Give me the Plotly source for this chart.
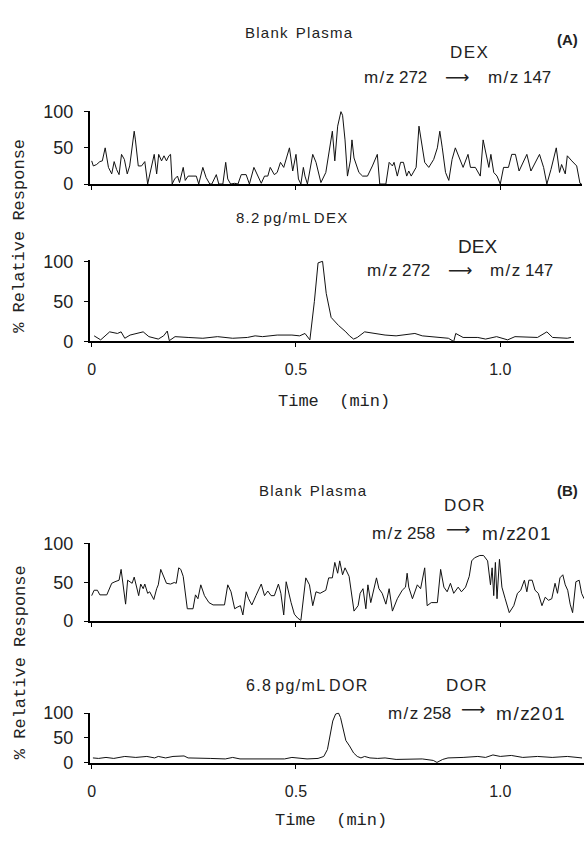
import plotly.graph_objects as go

# ---------------- data (time in min, % relative response) ----------------
a1_time = [0.000, 0.004, 0.012, 0.020, 0.026, 0.033, 0.041, 0.049, 0.055, 0.061, 0.067, 0.073, 0.080, 0.087,
           0.093, 0.100, 0.104, 0.107, 0.114, 0.122, 0.130, 0.137, 0.146, 0.153, 0.159, 0.164, 0.171, 0.177,
           0.183, 0.189, 0.193, 0.197, 0.203, 0.210, 0.215, 0.224, 0.229, 0.236, 0.248, 0.256, 0.262, 0.272,
           0.280, 0.289, 0.294, 0.305, 0.311, 0.321, 0.328, 0.333, 0.340, 0.350, 0.358, 0.366, 0.378, 0.386,
           0.397, 0.407, 0.415, 0.423, 0.431, 0.437, 0.447, 0.454, 0.462, 0.470,
           0.484, 0.492, 0.500, 0.506, 0.512, 0.518, 0.522, 0.528, 0.541, 0.549, 0.561, 0.573, 0.581, 0.589,
           0.595, 0.602, 0.610, 0.614, 0.620, 0.626, 0.633, 0.637, 0.642, 0.654, 0.663, 0.675, 0.687, 0.699,
           0.705, 0.720, 0.728, 0.736, 0.740, 0.748, 0.756, 0.763, 0.771, 0.776, 0.782, 0.789, 0.794, 0.801,
           0.807, 0.815, 0.825, 0.837, 0.846, 0.852, 0.858, 0.866, 0.874, 0.882, 0.890, 0.898, 0.909, 0.921,
           0.927, 0.939, 0.951, 0.958, 0.963, 0.972, 0.977, 0.984, 0.992, 1.000, 1.008, 1.020, 1.028, 1.037,
           1.046, 1.065, 1.075, 1.085, 1.096, 1.106, 1.114, 1.124, 1.137, 1.145, 1.150, 1.159, 1.164, 1.175,
           1.187, 1.195, 1.199]
a1_resp = [32, 25, 27, 31, 32, 50, 23, 14, 31, 20, 13, 41, 34, 14,
           25, 52, 73, 61, 25, 25, 31, 0, 25, 41, 14, 41, 32, 39,
           32, 39, 41, 0, 7, 11, 2, 23, 5, 11, 11, 11, 0, 23,
           9, 0, 0, 13, 0, 0, 30, 7, 0, 1, 0, 13, 13, 0,
           23, 11, 1, 11, 11, 23, 13, 16, 30, 23,
           50, 18, 41, 7, 0, 23, 11, 0, 41, 30, 2, 16, 48, 73,
           32, 80, 100, 95, 61, 11, 32, 61, 36, 16, 11, 11, 25, 41,
           0, 0, 30, 25, 30, 11, 30, 30, 11, 18, 11, 18, 23, 80,
           57, 30, 23, 34, 50, 73, 50, 16, 5, 34, 50, 39, 23, 41,
           23, 23, 11, 61, 48, 23, 41, 16, 11, 0, 23, 23, 41, 41,
           18, 41, 18, 30, 41, 23, 0, 20, 50, 16, 27, 14, 39, 32,
           25, 1, 0]

a2_time = [0.006, 0.022, 0.044, 0.063, 0.072, 0.081, 0.094, 0.126, 0.140, 0.163, 0.176, 0.185, 0.190, 0.204,
           0.236, 0.272, 0.308, 0.345, 0.381, 0.400, 0.418, 0.454, 0.490, 0.509, 0.522, 0.534, 0.545, 0.554,
           0.565, 0.574, 0.586, 0.604, 0.622, 0.631, 0.641, 0.650, 0.668, 0.691, 0.718, 0.745, 0.782, 0.791,
           0.809, 0.845, 0.873, 0.886, 0.891, 0.909, 0.945, 0.964, 0.991, 1.018, 1.036, 1.091, 1.114, 1.128,
           1.164, 1.173]
a2_resp = [7, 2, 12, 10, 12, 4, 8, 12, 6, 3, 7, 13, 1, 6,
           5, 4, 6, 4, 5, 7, 6, 8, 8, 7, 10, 2, 50, 98,
           100, 60, 30, 20, 12, 7, 3, 5, 12, 10, 8, 7, 9, 10,
           7, 5, 4, 0, 10, 5, 5, 3, 6, 2, 6, 5, 12, 5,
           4, 5]

b1_time = [0.000, 0.006, 0.014, 0.020, 0.037, 0.049, 0.057, 0.067, 0.072, 0.077, 0.083, 0.088, 0.093, 0.099,
           0.104, 0.110, 0.115, 0.120, 0.126, 0.130, 0.137, 0.142, 0.148, 0.152, 0.159, 0.163, 0.169, 0.175,
           0.183, 0.193, 0.202, 0.207, 0.213, 0.218, 0.224, 0.234, 0.248, 0.254, 0.260, 0.267, 0.276, 0.287,
           0.297, 0.325, 0.333, 0.341, 0.350, 0.356, 0.364, 0.370, 0.378, 0.384, 0.392, 0.402, 0.415, 0.423,
           0.431, 0.439, 0.447, 0.457, 0.463, 0.470,
           0.476, 0.488, 0.496, 0.504, 0.512, 0.524, 0.533, 0.541, 0.549, 0.559, 0.573, 0.580, 0.589, 0.595,
           0.602, 0.607, 0.614, 0.620, 0.630, 0.642, 0.652, 0.657, 0.664, 0.671, 0.676, 0.683, 0.691, 0.697,
           0.703, 0.711, 0.720, 0.728, 0.736, 0.748, 0.760, 0.768, 0.772, 0.776, 0.785, 0.797, 0.805, 0.815,
           0.821, 0.831, 0.846, 0.854, 0.862, 0.870, 0.878, 0.886, 0.897, 0.905, 0.915, 0.924, 0.930, 0.937,
           0.950, 0.959, 0.969, 0.976, 0.980, 0.984, 0.988, 0.992, 0.998, 1.004, 1.012, 1.022, 1.033, 1.042,
           1.050, 1.059, 1.065, 1.070, 1.078, 1.085, 1.093, 1.102, 1.110, 1.118, 1.126, 1.134, 1.140, 1.146,
           1.153, 1.159, 1.165, 1.171, 1.177, 1.185, 1.193, 1.199, 1.205]
b1_resp = [33, 40, 40, 34, 34, 49, 51, 53, 67, 47, 22, 53, 51, 49,
           57, 44, 33, 48, 42, 48, 36, 38, 33, 28, 42, 47, 67, 60,
           49, 48, 50, 49, 69, 67, 58, 16, 16, 34, 29, 47, 33, 24,
           21, 21, 47, 38, 16, 18, 20, 8, 38, 29, 21, 33, 48, 33,
           39, 33, 33, 48, 36, 8,
           51, 24, 9, 4, 1, 56, 47, 20, 38, 36, 40, 56, 56, 76,
           62, 78, 60, 69, 58, 13, 20, 36, 42, 16, 47, 24, 44, 56,
           42, 36, 22, 42, 13, 29, 40, 44, 62, 44, 29, 47, 42, 69,
           20, 24, 24, 67, 44, 38, 49, 36, 44, 38, 44, 58, 78, 82,
           85, 85, 78, 47, 69, 33, 76, 29, 80, 44, 29, 11, 20, 36,
           40, 53, 38, 53, 53, 40, 36, 20, 31, 27, 29, 49, 36, 56,
           60, 47, 40, 22, 11, 51, 53, 36, 29]

b2_time = [0.003, 0.017, 0.035, 0.054, 0.081, 0.108, 0.135, 0.154, 0.163, 0.181, 0.199, 0.226, 0.236, 0.254,
           0.290, 0.327, 0.345, 0.363, 0.399, 0.436, 0.472, 0.490, 0.509, 0.527, 0.554, 0.568, 0.577, 0.583,
           0.590, 0.597, 0.604, 0.609, 0.616, 0.622, 0.631, 0.641, 0.650, 0.659, 0.668, 0.681, 0.700, 0.718,
           0.745, 0.782, 0.809, 0.836, 0.845, 0.859, 0.872, 0.909, 0.945, 0.964, 0.982, 1.000, 1.027, 1.055,
           1.091, 1.127, 1.164, 1.200]
b2_resp = [10, 9, 11, 9, 13, 11, 13, 10, 13, 10, 13, 14, 10, 10,
           9, 8, 11, 8, 8, 9, 8, 11, 10, 8, 9, 13, 27, 55,
           84, 98, 100, 91, 64, 45, 34, 20, 13, 10, 13, 10, 9, 10,
           7, 7, 8, 5, 1, 7, 10, 11, 13, 11, 16, 13, 15, 11,
           13, 11, 13, 10]

y_ticks = [0, 50, 100]
x_ticks = [0, 0.5, 1.0]
x_tick_text = ["0", "0.5", "1.0"]

# ---------------- layout helpers ----------------
W, H = 584, 858
PX_PER_MIN = 410.0
X_ZERO_PX = 90.0
SANS = "Liberation Sans, DejaVu Sans"
MONO = "Liberation Mono, DejaVu Sans Mono"
HS = "\u200a"  # hair space used to mimic the letter-spaced lettering


def xdom(left, right):
    return [left / W, right / W]


def xrange(left, right):
    return [(left - X_ZERO_PX) / PX_PER_MIN, (right - X_ZERO_PX) / PX_PER_MIN]


def ydom(px0, px100, top=101.0):
    ptop = px0 - (px0 - px100) * top / 100.0
    return [1 - px0 / H, 1 - ptop / H]


def spaced(s):
    return HS.join(s)


panels = [
    # (time, resp, x left px, x right px, y px of 0, y px of 100, show x labels)
    (a1_time, a1_resp, 88, 582, 179, 105, False),
    (a2_time, a2_resp, 88, 574, 340, 258, True),
    (b1_time, b1_resp, 88, 584, 626, 547, False),
    (b2_time, b2_resp, 88, 584, 771, 720, True),
]

fig = go.Figure()
layout = dict(
    width=W, height=H, margin=dict(l=0, r=0, t=0, b=0),
    paper_bgcolor="white", plot_bgcolor="white", showlegend=False,
    font=dict(family=SANS, color="black"),
)

for i, (t, r, xl, xr, p0, p100, showx) in enumerate(panels, start=1):
    sx = "" if i == 1 else str(i)
    fig.add_trace(go.Scatter(x=t, y=r, mode="lines",
                             line=dict(color="#111111", width=1),
                             xaxis="x" + sx, yaxis="y" + sx, hoverinfo="skip"))
    layout["xaxis" + sx] = dict(
        domain=xdom(xl, xr), range=xrange(xl, xr), anchor="y" + sx,
        showline=True, linecolor="black", linewidth=1.5, showgrid=False, zeroline=False,
        ticks="outside", ticklen=4, tickwidth=1, tickcolor="black",
        tickvals=x_ticks, ticktext=x_tick_text, showticklabels=showx,
        tickfont=dict(family=SANS, size=16, color="#222"),
        ticklabelstandoff=9,
    )
    layout["yaxis" + sx] = dict(
        domain=ydom(p0, p100), range=[0, 101], anchor="x" + sx,
        showline=True, linecolor="black", linewidth=1.5, showgrid=False, zeroline=False,
        ticks="outside", ticklen=4, tickwidth=1, tickcolor="black",
        tickvals=y_ticks, tickfont=dict(family=SANS, size=18, color="#222"),
        ticklabelstandoff=7,
    )

fig.update_layout(**layout)


def txt(text, x, y, size=13, family=SANS, angle=0, xanchor="center"):
    fig.add_annotation(text=text, x=x / W, y=1 - y / H, xref="paper", yref="paper",
                       showarrow=False, xanchor=xanchor, yanchor="middle", textangle=angle,
                       font=dict(family=family, size=size, color="#222"))


ARROW = "\u27f6"

# Panel A texts
txt(spaced("Blank") + "  " + spaced("Plasma"), 298, 24, 15)
txt("<b>(A)</b>", 567, 31, 15)
txt(spaced("DEX"), 469, 44, 17)
txt(spaced("m/z") + " 272", 395, 70, 17)
txt(ARROW, 457, 70, 17)
txt(spaced("m/z") + " 147", 519, 70, 17)
txt(spaced("8.2") + " " + spaced("pg/mL") + " " + spaced("DEX"), 290, 213, 15)
txt("DEX", 477, 243, 19)
txt(spaced("m/z") + " 272", 398, 267, 17)
txt(ARROW, 460, 267, 17)
txt(spaced("m/z") + " 147", 521, 267, 17)
txt("Time  (min)", 333, 401, 17, MONO)
txt("% Relative Response", 18, 232, 17, MONO, angle=-90)

# Panel B texts
txt(spaced("Blank") + "  " + spaced("Plasma"), 312, 492, 15)
txt("<b>(B)</b>", 567, 492, 15)
txt(spaced("DOR"), 464, 508, 17)
txt(spaced("m/z") + " 258", 403, 536, 17)
txt(ARROW, 458, 532, 17)
txt(spaced("m/z") + spaced("201"), 516, 536, 19)
txt(spaced("6.8") + " " + spaced("pg/mL") + " " + spaced("DOR"), 306, 692, 16)
txt(spaced("DOR"), 466, 692, 17)
txt(spaced("m/z") + " 258", 419, 720, 17)
txt(ARROW, 473, 716, 17)
txt(spaced("m/z") + spaced("201"), 530, 720, 19)
txt("Time  (min)", 330, 830, 17, MONO)
txt("% Relative Response", 18, 668, 17, MONO, angle=-90)

fig.write_html(
    "out.html",
    config={"displayModeBar": False},
    post_script="document.body.style.margin='0';document.body.style.overflow='hidden';"
                "document.documentElement.style.overflow='hidden';",
)
